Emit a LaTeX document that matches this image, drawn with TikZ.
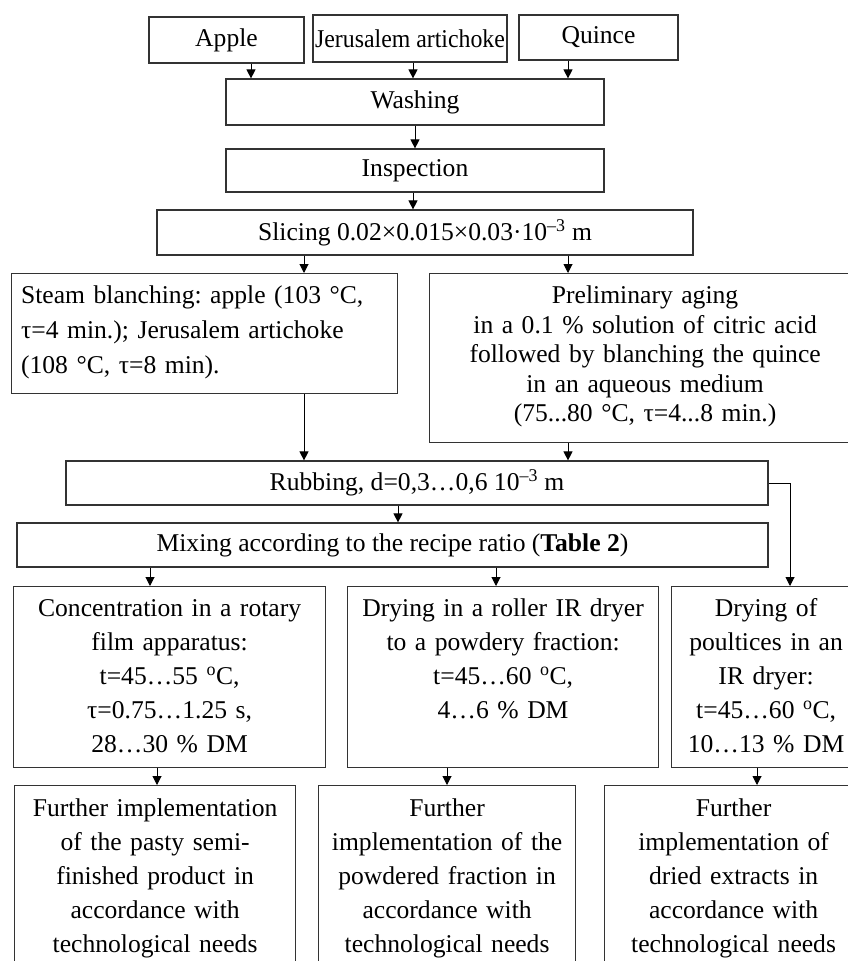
\documentclass[tikz,border=0pt]{standalone}
\usepackage{fontspec}
\setmainfont{Liberation Serif}
\usepackage{graphicx}
\usetikzlibrary{arrows.meta}
\definecolor{framegray}{HTML}{333333}
\frenchspacing

\begin{document}
\begin{tikzpicture}[
  x=1pt, y=-1pt, >=Triangle,
  stepbox/.style={rectangle, draw=framegray, line width=1.2pt, inner sep=0pt, font=\fontsize{25.6pt}{34pt}\selectfont},
  tallbox/.style={stepbox, anchor=north west, align=center, inner xsep=6pt},
  line/.style={draw, line width=1pt, -{Triangle[length=9pt, width=9pt]}}
]
  \useasboundingbox (0,0) rectangle (848,961);

  % ==================== RAW MATERIAL ====================
  \node[stepbox, minimum width=155pt, minimum height=46pt] (apple) at (226.5, 40) {Apple};
  \node[stepbox, minimum width=194pt, minimum height=47pt] (jeru) at (410, 38.5) {\scalebox{0.93}[1]{Jerusalem artichoke}};
  \node[stepbox, minimum width=159pt, minimum height=45pt] (quince) at (598.5, 37.5) {Quince};

  % ==================== PREPARATION ====================
  \node[stepbox, minimum width=378pt, minimum height=46pt] (washing) at (415, 102) {Washing};
  \node[stepbox, minimum width=378pt, minimum height=43pt] (inspection) at (415, 170.5) {Inspection};
  \node[stepbox, minimum width=536pt, minimum height=45pt] (slicing) at (425, 232.5) {Slicing 0.02×0.015×0.03·10\textsuperscript{–3} m};

  % Blanching branches
  \node[tallbox, align=left, text width=367pt, inner xsep=9.5pt, text height=30pt, text depth=90pt,
    font=\fontsize{25.6pt}{35pt}\selectfont] (blanch) at (11, 273)
    {\makebox[367pt][s]{Steam blanching: apple (103 °C,}\\
     \makebox[318pt][s]{τ=4 min.); Jerusalem artichoke}\\
     (108 °C, τ=8 min).};
  \node[tallbox, text width=411pt, inner xsep=10pt, text height=30pt, text depth=139pt,
    font=\fontsize{25.6pt}{29.5pt}\selectfont] (prelim) at (429, 273)
    {Preliminary aging\\ in a 0.1 \% solution of citric acid\\ followed by blanching the quince\\ in an aqueous medium\\ (75...80 °C, τ=4...8 min.)};

  \node[stepbox, minimum width=702pt, minimum height=44pt] (rubbing) at (417, 483) {Rubbing, d=0,3…0,6 10\textsuperscript{–3} m};
  \node[stepbox, minimum width=751pt, minimum height=44pt] (mixing) at (392.5, 545) {Mixing according to the recipe ratio (\textbf{Table 2})};

  % ==================== PROCESSING ====================
  \node[tallbox, text width=300pt, text height=30pt, text depth=151pt] (conc) at (13, 586)
    {Concentration in a rotary\\ film apparatus:\\ t=45…55 \textsuperscript{o}C,\\ τ=0.75…1.25 s,\\ 28…30 \% DM};
  \node[tallbox, text width=299pt, text height=30pt, text depth=151pt] (dryroll) at (347, 586)
    {Drying in a roller IR dryer\\ to a powdery fraction:\\ t=45…60 \textsuperscript{o}C,\\ 4…6 \% DM};
  \node[tallbox, text width=177pt, text height=30pt, text depth=151pt] (poult) at (671, 586)
    {Drying of\\ poultices in an\\ IR dryer:\\ t=45…60 \textsuperscript{o}C,\\ 10…13 \% DM};

  % ==================== IMPLEMENTATION ====================
  \node[tallbox, text width=269pt, text height=31pt, text depth=159pt] (fin1) at (14, 785)
    {Further implementation\\ of the pasty semi-\\ finished product in\\ accordance with\\ technological needs};
  \node[tallbox, text width=245pt, text height=31pt, text depth=159pt] (fin2) at (318, 785)
    {Further\\ implementation of the\\ powdered fraction in\\ accordance with\\ technological needs};
  \node[tallbox, text width=246pt, text height=31pt, text depth=159pt] (fin3) at (604, 785)
    {Further\\ implementation of\\ dried extracts in\\ accordance with\\ technological needs};

  % Arrow columns
  \coordinate (col_apple) at (251, 0);
  \coordinate (col_jeru) at (413, 0);
  \coordinate (col_right) at (568, 0);
  \coordinate (col_left) at (304, 0);
  \coordinate (col_mid) at (398, 0);
  \coordinate (col_conc) at (150, 0);
  \coordinate (col_dry) at (496, 0);
  \coordinate (col_side) at (790, 0);
  \coordinate (col_fin1) at (157, 0);
  \coordinate (col_fin2) at (447, 0);
  \coordinate (col_fin3) at (757, 0);

  \draw[line] (apple.south -| col_apple) -- (washing.north -| col_apple);
  \draw[line] (jeru.south -| col_jeru) -- (washing.north -| col_jeru);
  \draw[line] (quince.south -| col_right) -- (washing.north -| col_right);
  \draw[line] (washing) -- (inspection);
  \draw[line] (inspection.south -| col_jeru) -- (slicing.north -| col_jeru);

  \draw[line] (slicing.south -| col_left) -- (blanch.north -| col_left);
  \draw[line] (slicing.south -| col_right) -- (prelim.north -| col_right);
  \draw[line] (blanch.south -| col_left) -- (rubbing.north -| col_left);
  \draw[line] (prelim.south -| col_right) -- (rubbing.north -| col_right);
  \draw[line] (rubbing.south -| col_mid) -- (mixing.north -| col_mid);

  \draw[line] (mixing.south -| col_conc) -- (conc.north -| col_conc);
  \draw[line] (mixing.south -| col_dry) -- (dryroll.north -| col_dry);
  \draw[line] (rubbing.east) -| (poult.north -| col_side);

  \draw[line] (conc.south -| col_fin1) -- (fin1.north -| col_fin1);
  \draw[line] (dryroll.south -| col_fin2) -- (fin2.north -| col_fin2);
  \draw[line] (poult.south -| col_fin3) -- (fin3.north -| col_fin3);

\end{tikzpicture}
\end{document}
